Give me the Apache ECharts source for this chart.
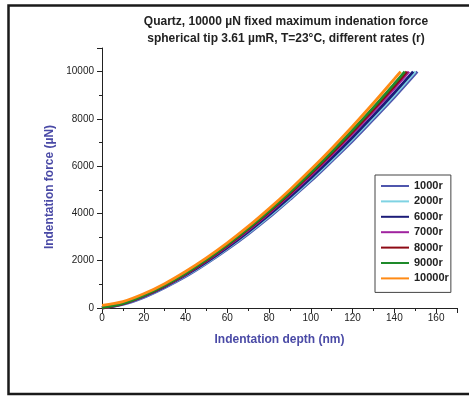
<!DOCTYPE html>
<html>
<head>
<meta charset="utf-8">
<script src="https://cdn.jsdelivr.net/npm/echarts@6/dist/echarts.min.js"></script>
<style>html,body{margin:0;padding:0;background:#fff}#c{width:469px;height:396px}</style>
</head>
<body>
<div id="c"></div>
<script>
const titleLines = ['Quartz, 10000 \u00b5N fixed maximum indenation force', 'spherical tip 3.61 \u00b5mR, T=23\u00b0C, different rates (r)'];
const xName = 'Indentation depth (nm)';
const yName = 'Indentation force (\u00b5N)';
const seriesNames = ['1000r', '2000r', '6000r', '7000r', '8000r', '9000r', '10000r'];
const seriesColors = ['#4f56ad', '#7fd3e3', '#1c1c78', '#a0239f', '#8e0a14', '#1e8a2a', '#ff8a14'];
const depths = [0, 10, 20, 30, 40, 50, 60, 70, 80, 90, 100, 110, 120, 130, 140];
const f1000 = [0, 150, 450, 860, 1330, 1880, 2480, 3130, 3830, 4590, 5370, 6210, 7070, 7985, 8915];
const f2000 = [0, 165, 475, 885, 1370, 1915, 2525, 3180, 3890, 4640, 5440, 6275, 7150, 8065, 9012];
const f6000 = [0, 174, 492, 903, 1391, 1944, 2555, 3220, 3934, 4694, 5498, 6343, 7227, 8149, 9107];
const f7000 = [0, 180, 508, 930, 1430, 1995, 2620, 3298, 4025, 4800, 5620, 6480, 7382, 8322, 9298];
const f8000 = [0, 184, 515, 942, 1448, 2020, 2650, 3335, 4068, 4850, 5677, 6546, 7457, 8406, 9393];
const f9000 = [20, 195, 530, 960, 1470, 2045, 2680, 3370, 4110, 4900, 5735, 6612, 7532, 8490, 9488];
const f10000 = [110, 270, 600, 1030, 1545, 2120, 2755, 3450, 4205, 5005, 5856, 6752, 7692, 8672, 9692];
const endDepths = [151, 150, 149, 147, 146, 145, 143];
const endForce = 10000;
const forces = [f1000, f2000, f6000, f7000, f8000, f9000, f10000];

const chart = echarts.init(document.getElementById('c'));
const series = seriesNames.map((name, i) => {
  const data = depths.map((d, j) => [d, forces[i][j]]);
  data.push([endDepths[i], endForce]);
  return {
    name, type: 'line', data, smooth: 0.3, showSymbol: false,
    lineStyle: {color: seriesColors[i], width: 2.8}, itemStyle: {color: seriesColors[i]}
  };
});
const axisColor = '#222';
chart.setOption({
  animation: false,
  title: {
    text: titleLines.join('\n'), left: 281, top: 8, textAlign: 'center',
    textStyle: {fontFamily: 'Liberation Sans', fontSize: 12, fontWeight: 'bold', color: '#222', lineHeight: 17}
  },
  graphic: [{type: 'rect', shape: {x: 8.5, y: 5.5, width: 480, height: 388.5}, style: {fill: 'none', stroke: '#1a1a1a', lineWidth: 2.5}, silent: true}],
  grid: {left: 102, top: 48, right: 12, bottom: 88},
  legend: {
    orient: 'vertical', left: 375, top: 175, data: seriesNames,
    icon: 'rect', itemWidth: 28, itemHeight: 2, itemGap: 3.4,
    padding: [5, 2, 8, 6], borderColor: '#444', borderWidth: 1,
    textStyle: {fontFamily: 'Liberation Sans', fontSize: 11, fontWeight: 'bold', color: '#222', lineHeight: 12}
  },
  xAxis: {
    type: 'value', min: 0, max: 170, interval: 20,
    name: xName, nameLocation: 'middle', nameGap: 26,
    nameTextStyle: {fontFamily: 'Liberation Sans', fontSize: 12, fontWeight: 'bold', color: '#4a4aa6'},
    axisLine: {show: true, lineStyle: {color: axisColor, width: 1}},
    axisTick: {show: true, inside: false, length: 5, lineStyle: {color: axisColor}},
    minorTick: {show: true, splitNumber: 2, length: 3, lineStyle: {color: axisColor}},
    axisLabel: {fontFamily: 'Liberation Sans', fontSize: 10, color: '#222', margin: 5, showMaxLabel: false, formatter: v => String(v)},
    splitLine: {show: false}
  },
  yAxis: {
    type: 'value', min: 0, max: 11000, interval: 2000,
    name: yName, nameLocation: 'middle', nameGap: 46,
    nameTextStyle: {fontFamily: 'Liberation Sans', fontSize: 12, fontWeight: 'bold', color: '#4a4aa6', padding: [0, 18, 0, 0]},
    axisLine: {show: true, lineStyle: {color: axisColor, width: 1}},
    axisTick: {show: true, inside: false, length: 5, lineStyle: {color: axisColor}},
    minorTick: {show: true, splitNumber: 2, length: 3, lineStyle: {color: axisColor}},
    axisLabel: {fontFamily: 'Liberation Sans', fontSize: 10, color: '#222', margin: 8, showMaxLabel: false, formatter: v => String(v)},
    splitLine: {show: false}
  },
  series
});
</script>
</body>
</html>
